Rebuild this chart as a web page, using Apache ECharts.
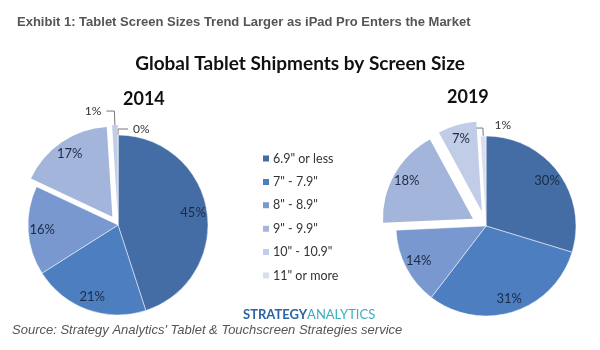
<!DOCTYPE html>
<html>
<head>
    <meta charset="utf-8">
    <title>Global Tablet Shipments by Screen Size</title>
    <script src="https://cdn.jsdelivr.net/npm/echarts@6/dist/echarts.min.js"></script>
    <style>
        *{margin: 0;padding: 0;}
        body{background: #fff;}
    </style>
</head>
<body>
    <div id="main" style="width: 600px;height:350px;"></div>
    <script type="text/javascript">
        // screen size buckets and shares (%)
        var sizes = ['6.9" or less', '7" - 7.9"', '8" - 8.9"', '9" - 9.9"', '10" - 10.9"', '11" or more'];
        var share2014 = [45, 21, 16, 17, 1, 0];
        var share2019 = [30, 31, 14, 18, 7, 1];
        var exploded = [3, 4];   // slices pulled out of the pie
        var colors = ['#446da5', '#4c7ec0', '#7898cf', '#a3b5da', '#c1cce6', '#d6def0'];

        var myChart = echarts.init(document.getElementById('main'));

        // visible slices, small ones get an outside label
        function pieData(values, lines) {
            return values.map(function (v, i) {
                var small = v < 5;
                var item = {
                    name: sizes[i],
                    value: v,
                    selected: exploded.indexOf(i) >= 0,
                    label: {show: small},
                    labelLine: {show: small}
                };
                if (lines[i]) {
                    item.labelLine.length = lines[i][0];
                    item.labelLine.length2 = lines[i][1];
                }
                return item;
            });
        }
        // transparent copy, only to put the inner labels further out
        function labelData(values) {
            return values.map(function (v, i) {
                return {
                    name: sizes[i],
                    value: v,
                    selected: exploded.indexOf(i) >= 0,
                    label: {show: v >= 5}
                };
            });
        }

        function pieSeries(values, center, offset, lines, layout) {
            return [{
                type: 'pie',
                center: center,
                radius: 90,
                startAngle: 89.99,
                avoidLabelOverlap: false,
                selectedMode: 'multiple',
                selectedOffset: offset,
                select: {itemStyle: {borderWidth: 0}},
                itemStyle: {borderColor: '#fff', borderWidth: 0.5},
                label: {
                    position: 'outside',
                    formatter: '{c}%',
                    color: '#333',
                    fontFamily: 'Lato',
                    fontSize: 12
                },
                labelLine: {length: 8, length2: 6, lineStyle: {color: '#777', width: 1}},
                labelLayout: layout,
                emphasis: {scale: false},
                data: pieData(values, lines)
            }, {
                type: 'pie',
                silent: true,
                center: center,
                radius: 146,
                startAngle: 89.99,
                selectedMode: 'multiple',
                selectedOffset: offset,
                itemStyle: {color: 'rgba(0,0,0,0)'},
                select: {itemStyle: {color: 'rgba(0,0,0,0)'}},
                label: {
                    position: 'inside',
                    formatter: '{c}%',
                    color: '#1c2a45',
                    fontFamily: 'Lato',
                    fontSize: 13
                },
                labelLine: {show: false},
                data: labelData(values)
            }];
        }

        // 2019's 1% label sits on the right of the top like in the picture
        function layout2019(p) {
            if (p.dataIndex === 5) {
                return {dx: p.labelRect.width + 8, dy: -3, align: 'left'};
            }
        }

        var option = {
            color: colors,
            animation: false,
            title: [{
                text: 'Exhibit 1: Tablet Screen Sizes Trend Larger as iPad Pro Enters the Market',
                left: 12, top: 11,
                textStyle: {fontFamily: 'Liberation Sans', fontSize: 13, fontWeight: 'bold', color: '#555'}
            }, {
                text: 'Global Tablet Shipments by Screen Size',
                left: 'center', top: 49,
                textStyle: {fontFamily: 'Lato', fontSize: 19, fontWeight: 'bold', color: '#111'}
            }, {
                text: '2014',
                left: 118, top: 85,
                textStyle: {fontFamily: 'Lato', fontSize: 18, fontWeight: 'bold', color: '#111'}
            }, {
                text: '2019',
                left: 442, top: 83,
                textStyle: {fontFamily: 'Lato', fontSize: 18, fontWeight: 'bold', color: '#111'}
            }],
            legend: {
                orient: 'vertical',
                left: 256, top: 147,
                icon: 'rect',
                itemWidth: 8, itemHeight: 8,
                itemGap: 10.4,
                selectedMode: false,
                data: sizes,
                textStyle: {fontFamily: 'Lato', fontSize: 12.5, color: '#333', padding: [0, 0, 0, -2]}
            },
            graphic: [{
                type: 'text',
                left: 243, top: 308,
                style: {
                    text: '{a|STRATEGY}{b|ANALYTICS}',
                    rich: {
                        a: {fontFamily: 'Lato', fontSize: 13, fontWeight: 'bold', fill: '#2b63a3'},
                        b: {fontFamily: 'Lato', fontSize: 13, fill: '#3aaebe'}
                    }
                }
            }, {
                type: 'text',
                left: 12, top: 324,
                style: {
                    text: "Source: Strategy Analytics' Tablet & Touchscreen Strategies service",
                    fontFamily: 'Liberation Sans', fontSize: 13, fontStyle: 'italic', fill: '#555'
                }
            }],
            series: pieSeries(share2014, [118, 225], 10, {4: [14, 8], 5: [6, 10]})
                .concat(pieSeries(share2019, [486, 226], 15, {5: [8, 8]}, layout2019))
        };

        myChart.setOption(option);
    </script>
</body>
</html>
